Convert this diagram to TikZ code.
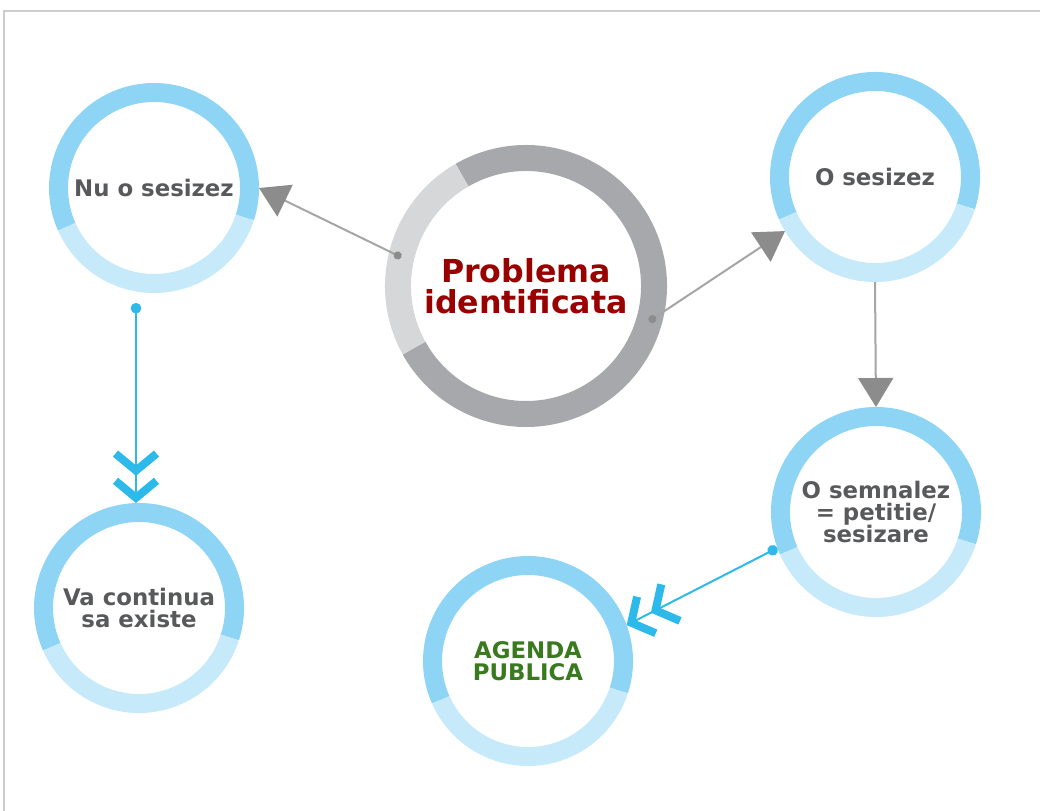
\documentclass[tikz,border=0pt]{standalone}
\usepackage{fontspec}
\setmainfont{DejaVu Sans}
\usetikzlibrary{positioning,calc,arrows.meta}
\definecolor{ringblue}{RGB}{142,212,245}
\definecolor{ringpale}{RGB}{198,234,250}
\definecolor{ringgray}{RGB}{166,168,171}
\definecolor{ringsilver}{RGB}{214,215,216}
\definecolor{txtgray}{RGB}{88,89,91}
\definecolor{probred}{RGB}{153,0,0}
\definecolor{agendagreen}{RGB}{58,122,30}
\definecolor{linkblue}{RGB}{45,186,234}
\definecolor{linkgray}{RGB}{165,165,165}
\definecolor{tipgray}{RGB}{140,140,140}
\definecolor{framegray}{RGB}{205,205,205}

\tikzset{
	state/.style={circle,minimum size=3.82cm,inner sep=0,outer sep=0.19cm,align=center,text=txtgray,font=\fontsize{13}{12.7}\selectfont\bfseries},
	grayarrow/.style={draw=linkgray,line width=0.04cm,-{Triangle[length=0.58cm,width=0.7cm,color=tipgray]}},
	dotgray/.style={grayarrow,{Circle[length=0.16cm,color=tipgray]}-{Triangle[length=0.58cm,width=0.7cm,color=tipgray]}},
	bluearrow/.style={draw=linkblue,line width=0.04cm,{Circle[length=0.21cm]}-{Straight Barb[length=0.34cm,width=0.82cm,line width=0.16cm,sep=0.02cm] Straight Barb[length=0.34cm,width=0.82cm,line width=0.16cm]}}
}

\begin{document}
\begin{tikzpicture}
	\useasboundingbox (0,0) rectangle (20.8,-16.22);
	\draw[framegray,line width=0.03cm] (0.08,-16.22) |- (20.8,-0.22);

	\node[state] (nu) at (3.08,-3.76) {Nu o sesizez};
	\node[state] (osz) at (17.5,-3.54) {O sesizez};
	\node[state] (semn) at (17.52,-10.24) {O semnalez\\= petitie/\\sesizare};
	\node[state] (va) at (2.78,-12.16) {Va continua\\sa existe};
	\node[state,text=agendagreen] (agenda) at (10.56,-13.22) {AGENDA\\PUBLICA};
	\node[state,minimum size=5.12cm,outer sep=0.26cm,text=probred,font=\fontsize{18}{17.5}\selectfont\bfseries] (prob) at (10.52,-5.72) {Problema\\identificata};

	% two-tone rings
	\foreach \n in {nu,osz,semn,va,agenda}{
		\draw[ringblue,line width=0.38cm] ($(\n.center)+(-18:1.91)$) arc[start angle=-18,end angle=204,radius=1.91];
		\draw[ringpale,line width=0.38cm] ($(\n.center)+(204:1.91)$) arc[start angle=204,end angle=342,radius=1.91];
	}
	\draw[ringgray,line width=0.52cm] ($(prob.center)+(120:2.56)$) arc[start angle=120,end angle=-151,radius=2.56];
	\draw[ringsilver,line width=0.52cm] ($(prob.center)+(120:2.56)$) arc[start angle=120,end angle=209,radius=2.56];

	\coordinate (pl) at ($(prob.center)+(167:2.56)$);
	\coordinate (pr) at ($(prob.center)+(-16:2.56)$);
	\coordinate (nudot) at (2.72,-6.06);

	\draw[dotgray] (pl) -- (nu.east);
	\draw[dotgray] (pr) -- (osz.211);
	\draw[grayarrow] (osz.south) -- (semn.north);
	\draw[bluearrow] (nudot) -- (nudot |- va.north);
	\draw[bluearrow] (semn.200) -- (agenda.20);
\end{tikzpicture}
\end{document}
